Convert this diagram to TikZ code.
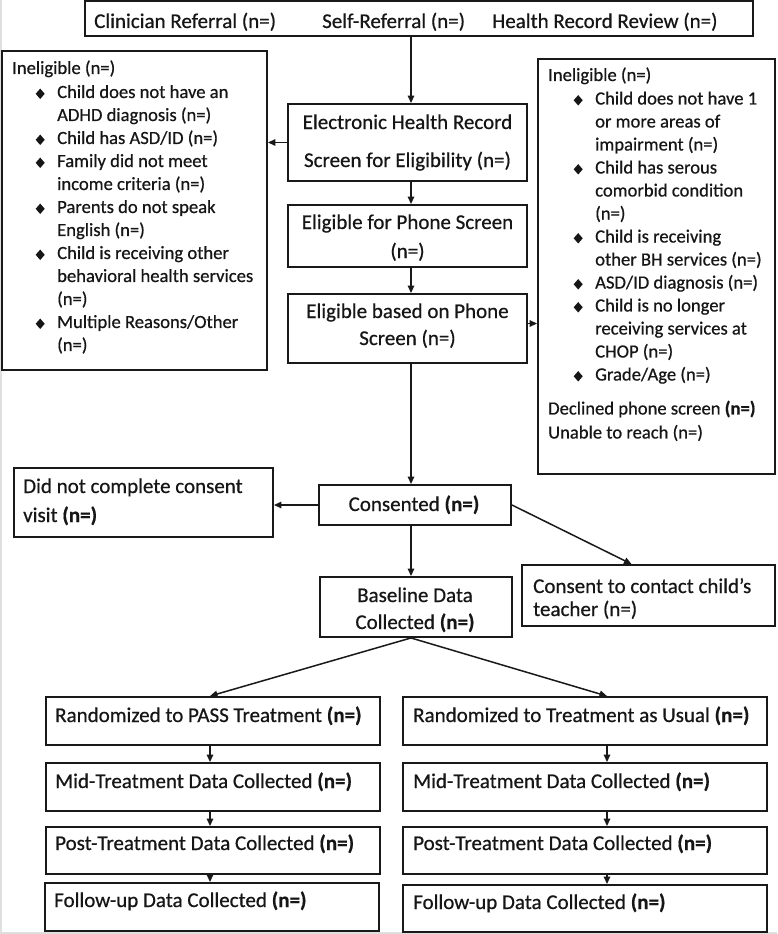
\documentclass[tikz,border=0pt]{standalone}
\usepackage{fontspec}
\setmainfont{Carlito}[UprightFeatures={FakeBold=0.6},BoldFeatures={FakeBold=0.6}]
\usetikzlibrary{arrows.meta}
\definecolor{ink}{HTML}{161616}
\newcommand\dmd{\raisebox{-1pt}{\scalebox{1}[1.15]{\rotatebox{45}{\rule{6.4pt}{6.4pt}}}}}
\newcommand\bulL{\makebox[45pt][l]{\hspace*{28pt}\makebox[0pt][c]{\dmd}}}
\newcommand\indL{\hspace*{45pt}}
\newcommand\bulR{\makebox[47pt][l]{\hspace*{30pt}\makebox[0pt][c]{\dmd}}}
\newcommand\indR{\hspace*{47pt}}
\begin{document}
\begin{tikzpicture}[x=1pt,y=-1pt,
  box/.style={draw=black!90, line width=1.9pt, inner sep=0pt, rectangle},
  txt/.style={inner sep=0pt, text=ink, font=\fontsize{21}{25}\selectfont},
  ltxt/.style={inner sep=0pt, text=ink, font=\fontsize{18.6}{23}\selectfont},
  conn/.style={line width=1.5pt, draw=black!90, -{Triangle[length=7.5pt,width=6.5pt]}}
]
\useasboundingbox (0,0) rectangle (777,934);
\fill[white] (0,0) rectangle (777,934);
\draw[gray!25, line width=2pt] (1,0) -- (1,933) -- (777,933);

% boxes
\node[box, minimum width=668pt, minimum height=35pt] (top) at (419,18.5) {};
\node[box, minimum width=265pt, minimum height=319pt] (inel1) at (134.5,210.5) {};
\node[box, minimum width=239pt, minimum height=77pt] (ehr) at (407.5,142.5) {};
\node[box, minimum width=239pt, minimum height=62pt] (efps) at (407.5,236) {};
\node[box, minimum width=239pt, minimum height=69pt] (ebps) at (407.5,328.5) {};
\node[box, minimum width=237pt, minimum height=415pt] (inel2) at (656.5,266.5) {};
\node[box, minimum width=259pt, minimum height=69pt] (dnc) at (143.5,502.5) {};
\node[box, minimum width=192pt, minimum height=40pt] (cons) at (415,505) {};
\node[box, minimum width=253pt, minimum height=61pt] (contact) at (648.5,595.5) {};
\node[box, minimum width=192pt, minimum height=60pt] (base) at (416,607) {};
\node[box, minimum width=334pt, minimum height=48pt] (pass) at (213,721) {};
\node[box, minimum width=364pt, minimum height=48pt] (tau) at (585,721) {};
\node[box, minimum width=334pt, minimum height=48pt] (midL) at (213,787) {};
\node[box, minimum width=364pt, minimum height=48pt] (midR) at (585,787) {};
\node[box, minimum width=334pt, minimum height=47pt] (postL) at (213,850.5) {};
\node[box, minimum width=364pt, minimum height=47pt] (postR) at (585,850.5) {};
\node[box, minimum width=334pt, minimum height=48pt] (folL) at (212,907) {};
\node[box, minimum width=364pt, minimum height=47pt] (folR) at (585,908.5) {};

% connectors
\coordinate (cx) at (411,0);
\coordinate (lc) at (210,0);
\coordinate (rc) at (607,0);
\coordinate (e1) at ([yshift=5pt]ebps.east);
\draw[conn] (top.south -| cx) -- (ehr.north -| cx);
\draw[conn] (ehr.west) -- (inel1.east |- ehr.west);
\draw[conn] (ehr.south -| cx) -- (efps.north -| cx);
\draw[conn] (efps.south -| cx) -- (ebps.north -| cx);
\draw[conn] (e1) -- (inel2.west |- e1);
\draw[conn] (ebps.south -| cx) -- (cons.north -| cx);
\draw[conn] (cons.west) -- (dnc.east |- cons.west);
\draw[conn] (cons.east) -- ([xshift=-17pt]contact.north);
\draw[conn] (cons.south -| cx) -- (base.north -| cx);
\draw[conn] (base.south -| cx) -- (pass.north -| lc);
\draw[conn] (base.south -| cx) -- (tau.north -| rc);
\draw[conn] (pass.south -| lc) -- (midL.north -| lc);
\draw[conn] (midL.south -| lc) -- (postL.north -| lc);
\draw[conn] (postL.south -| lc) -- (folL.north -| lc);
\draw[conn] (tau.south -| rc) -- (midR.north -| rc);
\draw[conn] (midR.south -| rc) -- (postR.north -| rc);
\draw[conn] (postR.south -| rc) -- (folR.north -| rc);

% texts
\node[txt, anchor=base west] (t1) at (94,28) {Clinician Referral (n=)};
\node[txt, anchor=base west] (t2) at (322,28) {Self-Referral (n=)};
\node[txt, anchor=base west] (t3) at (492,28) {Health Record Review (n=)};

\node[ltxt, anchor=base west] (inel1t) at (12,74) {\begin{tabular}[t]{@{}l@{}}
Ineligible (n=)\\[1pt]
\bulL Child does not have an\\
\indL ADHD diagnosis (n=)\\
\bulL Child has ASD/ID (n=)\\
\bulL Family did not meet\\
\indL income criteria (n=)\\
\bulL Parents do not speak\\
\indL English (n=)\\
\bulL Child is receiving other\\
\indL behavioral health services\\
\indL (n=)\\
\bulL Multiple Reasons/Other\\
\indL (n=)
\end{tabular}};

\node[ltxt, anchor=base west] (inel2t) at (548,81) {\begin{tabular}[t]{@{}l@{}}
Ineligible (n=)\\[0.5pt]
\bulR Child does not have 1\\
\indR or more areas of\\
\indR impairment (n=)\\
\bulR Child has serous\\
\indR comorbid condition\\
\indR (n=)\\
\bulR Child is receiving\\
\indR other BH services (n=)\\
\bulR ASD/ID diagnosis (n=)\\
\bulR Child is no longer\\
\indR receiving services at\\
\indR CHOP (n=)\\
\bulR Grade/Age (n=)\\[11pt]
Declined phone screen \textbf{(n=)}\\[1pt]
Unable to reach (n=)
\end{tabular}};

\node[txt, anchor=base] (ehr1) at (407.5,129) {Electronic Health Record};
\node[txt, anchor=base] (ehr2) at (407.5,167) {Screen for Eligibility (n=)};
\node[txt, anchor=base] (efps1) at (407.5,229) {Eligible for Phone Screen};
\node[txt, anchor=base] (efps2) at (407.5,258) {(n=)};
\node[txt, anchor=base] (ebps1) at (407.5,318) {Eligible based on Phone};
\node[txt, anchor=base] (ebps2) at (407.5,345) {Screen (n=)};
\node[txt, anchor=base] (cons1) at (414,511) {Consented \textbf{(n=)}};
\node[txt, anchor=base west] (dnc1) at (23,493) {Did not complete consent};
\node[txt, anchor=base west] (dnc2) at (23,522) {visit \textbf{(n=)}};
\node[txt, anchor=base west] (con1) at (533,593) {Consent to contact child’s};
\node[txt, anchor=base west] (con2) at (533,616) {teacher (n=)};
\node[txt, anchor=base] (base1) at (415,602) {Baseline Data};
\node[txt, anchor=base] (base2) at (415,629) {Collected \textbf{(n=)}};

\node[txt, anchor=base west] (passt) at (55,722) {Randomized to PASS Treatment \textbf{(n=)}};
\node[txt, anchor=base west] (taut) at (413,722) {Randomized to Treatment as Usual \textbf{(n=)}};
\node[txt, anchor=base west] (midLt) at (55,788) {Mid-Treatment Data Collected \textbf{(n=)}};
\node[txt, anchor=base west] (midRt) at (413,788) {Mid-Treatment Data Collected \textbf{(n=)}};
\node[txt, anchor=base west] (postLt) at (55,850) {Post-Treatment Data Collected \textbf{(n=)}};
\node[txt, anchor=base west] (postRt) at (413,850) {Post-Treatment Data Collected \textbf{(n=)}};
\node[txt, anchor=base west] (folLt) at (54,907) {Follow-up Data Collected \textbf{(n=)}};
\node[txt, anchor=base west] (folRt) at (413,909) {Follow-up Data Collected \textbf{(n=)}};
\end{tikzpicture}
\end{document}
